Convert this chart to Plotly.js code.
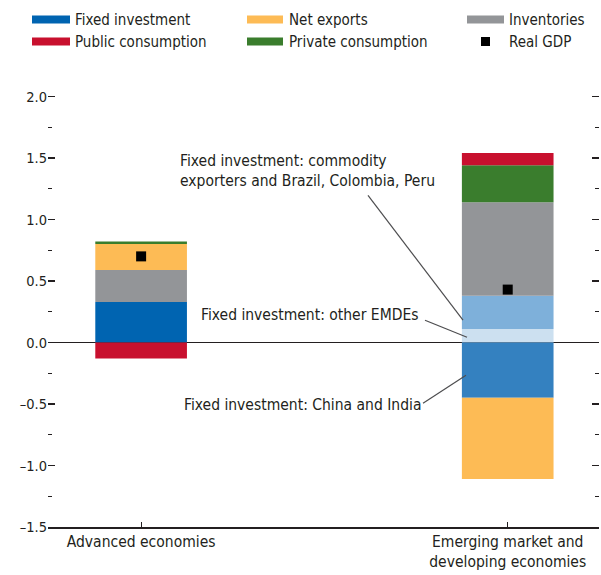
<!DOCTYPE html>
<html>
<head>
<meta charset="utf-8">
<script src="https://cdn.plot.ly/plotly-3.0.1.min.js"></script>
<style>
  html, body { margin: 0; padding: 0; background: #fff; }
  #chart { width: 601px; height: 575px; }
</style>
</head>
<body>
<div id="chart"></div>
<script>
// ---- Data (percentage points) ----
const categories = ["Advanced economies", "Emerging market and<br>developing economies"];
const fixedInvestment      = [0.33, null];
const fiOtherEMDEs         = [null, 0.11];
const fiCommodityExporters = [null, 0.27];
const fiChinaIndia         = [null, -0.45];
const inventories          = [0.26, 0.76];
const netExports           = [0.21, -0.66];
const privateConsumption   = [0.02, 0.30];
const publicConsumption    = [-0.13, 0.10];
const realGDP              = [0.70, 0.43];

const yTickVals  = [-1.5, -1.0, -0.5, 0.0, 0.5, 1.0, 1.5, 2.0];
const yTickText  = ["\u20131.5", "\u20131.0", "\u20130.5", "0.0", "0.5", "1.0", "1.5", "2.0"];
const yMinorVals = [-1.25, -0.75, -0.25, 0.25, 0.75, 1.25, 1.75];

const legendItems = [
  {name: "Fixed investment",    color: "#0064B1", col: 0, row: 0},
  {name: "Net exports",         color: "#FDBB55", col: 1, row: 0},
  {name: "Inventories",         color: "#939598", col: 2, row: 0},
  {name: "Public consumption",  color: "#C8102E", col: 0, row: 1},
  {name: "Private consumption", color: "#3A7D2D", col: 1, row: 1},
  {name: "Real GDP",            color: "#000000", col: 2, row: 1, marker: true}
];

// ---- Styling ----
const FONT = "'DejaVu Sans Condensed', 'Liberation Sans Narrow', 'Arial Narrow', sans-serif";
const TXT = "#231F20";
const C = {
  fi: "#0064B1", fiOther: "#CCE0F0", fiComm: "#7EB0DA", fiCI: "#3481C0",
  inv: "#939598", nx: "#FDBB55", priv: "#3A7D2D", pub: "#C8102E"
};

// y range slightly above 2.0 so the 2.0 tick is drawn; 2.0 sits at pixel row 96
const YR = [-1.5, 2.02];
const PL = 48, PR = 599, PB = 527;
const PT = PB - (YR[1] - YR[0]) * (431 / 3.5);
const X = px => (px - PL) / (PR - PL);
const Y = py => (PB - py) / (PB - PT);

function bar(name, y, color) {
  return {type: "bar", name, x: categories, y, width: 0.25,
          marker: {color, line: {width: 0}}, showlegend: false, hoverinfo: "name+y"};
}

const traces = [
  bar("Fixed investment", fixedInvestment, C.fi),
  bar("Fixed investment: other EMDEs", fiOtherEMDEs, C.fiOther),
  bar("Fixed investment: commodity exporters and Brazil, Colombia, Peru", fiCommodityExporters, C.fiComm),
  bar("Fixed investment: China and India", fiChinaIndia, C.fiCI),
  bar("Inventories", inventories, C.inv),
  bar("Net exports", netExports, C.nx),
  bar("Private consumption", privateConsumption, C.priv),
  bar("Public consumption", publicConsumption, C.pub),
  {type: "scatter", mode: "markers", name: "Real GDP", x: categories, y: realGDP,
   marker: {symbol: "square", size: 10, color: "#000"}, showlegend: false}
];
// invisible helper traces so the extra tick axes are drawn
["y2", "y3", "y4"].forEach(ya => traces.push({type: "scatter", mode: "markers", x: categories,
  y: [null, null], yaxis: ya, showlegend: false, hoverinfo: "skip"}));

// ---- Manual legend ----
const colX = [{sw: [32, 70], tx: 73}, {sw: [247, 283], tx: 287}, {sw: [467, 504], tx: 507}];
const rowY = [19, 41];
const shapes = [];
const annotations = [];
legendItems.forEach(it => {
  const c = colX[it.col], cy = rowY[it.row];
  if (it.marker) {
    shapes.push({type: "rect", xref: "paper", yref: "paper",
      x0: X(481), x1: X(490), y0: Y(cy + 4.5), y1: Y(cy - 4.5),
      fillcolor: it.color, line: {width: 0}});
  } else {
    shapes.push({type: "rect", xref: "paper", yref: "paper",
      x0: X(c.sw[0]), x1: X(c.sw[1]), y0: Y(cy + 4), y1: Y(cy - 4),
      fillcolor: it.color, line: {width: 0}});
  }
  annotations.push({xref: "paper", yref: "paper", x: X(c.tx), y: Y(cy),
    xanchor: "left", yanchor: "middle", showarrow: false, text: it.name,
    font: {family: FONT, size: 15, color: TXT}});
});

// ---- Callouts ----
const callouts = [
  {text: "Fixed investment: commodity<br>exporters and Brazil, Colombia, Peru", x: 178, y: 171,
   line: [368, 195, 463, 320]},
  {text: "Fixed investment: other EMDEs", x: 199, y: 315, line: [425, 320, 467, 337]},
  {text: "Fixed investment: China and India", x: 182, y: 405, line: [423, 403, 466, 375]}
];
callouts.forEach(c => {
  annotations.push({xref: "paper", yref: "paper", x: X(c.x), y: Y(c.y),
    xanchor: "left", yanchor: "middle", align: "left", showarrow: false, text: c.text,
    font: {family: FONT, size: 15.5, color: TXT}});
  shapes.push({type: "line", xref: "paper", yref: "paper",
    x0: X(c.line[0]), y0: Y(c.line[1]), x1: X(c.line[2]), y1: Y(c.line[3]),
    line: {color: "#4D4D4F", width: 1.2}});
});

function tickAxis(side, vals, len) {
  return {overlaying: "y", side, range: YR, tickmode: "array", tickvals: vals,
    ticks: "inside", ticklen: len, tickwidth: 1.2, tickcolor: TXT, showticklabels: false,
    showline: false, showgrid: false, zeroline: false, fixedrange: true};
}

const layout = {
  width: 601, height: 575,
  margin: {l: PL, r: 601 - PR, t: PT, b: 575 - PB, pad: 0},
  paper_bgcolor: "#fff", plot_bgcolor: "#fff",
  barmode: "relative",
  showlegend: false,
  font: {family: FONT, size: 15.5, color: TXT},
  xaxis: {
    type: "category", range: [-0.254, 1.249],
    showline: true, linecolor: TXT, linewidth: 1.5,
    ticks: "inside", ticklen: 5, tickcolor: TXT, tickwidth: 1.2,
    tickfont: {family: FONT, size: 15.5, color: TXT},
    showgrid: false, zeroline: false, fixedrange: true
  },
  yaxis: {
    range: YR, tickmode: "array", tickvals: yTickVals, ticktext: yTickText,
    ticks: "inside", ticklen: 7, tickwidth: 1.2, tickcolor: TXT,
    showline: false, showgrid: false,
    zeroline: true, zerolinecolor: TXT, zerolinewidth: 1.5,
    tickfont: {family: FONT, size: 14.5, color: TXT},
    fixedrange: true
  },
  yaxis2: tickAxis("left", yMinorVals, 4),
  yaxis3: tickAxis("right", yTickVals, 7),
  yaxis4: tickAxis("right", yMinorVals, 4),
  shapes, annotations
};

Plotly.newPlot("chart", traces, layout, {displayModeBar: false, staticPlot: true});
</script>
</body>
</html>
